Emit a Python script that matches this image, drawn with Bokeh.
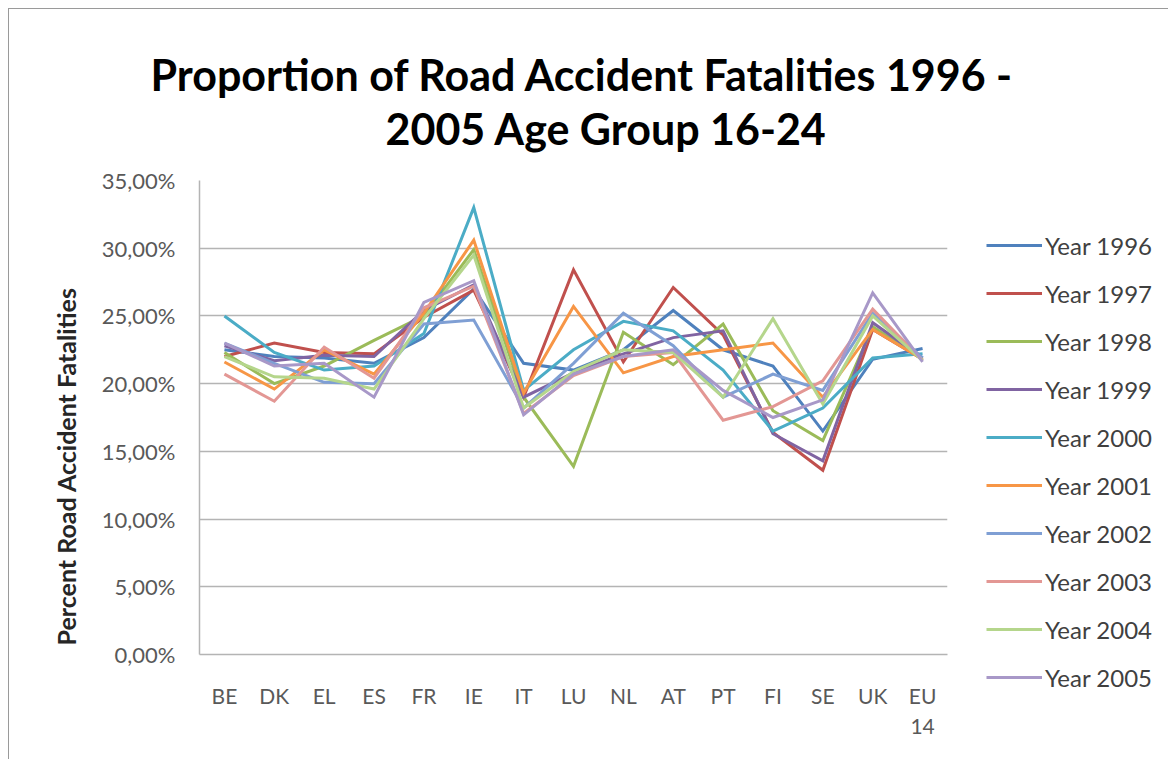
from bokeh.plotting import figure
from bokeh.models import FactorRange, Range1d, FixedTicker, Legend, LegendItem, Title
from bokeh.embed import file_html
from bokeh.resources import INLINE

categories = ["BE", "DK", "EL", "ES", "FR", "IE", "IT", "LU", "NL", "AT", "PT", "FI", "SE", "UK", "EU\n14"]

series_names = ["Year 1996", "Year 1997", "Year 1998", "Year 1999", "Year 2000",
                "Year 2001", "Year 2002", "Year 2003", "Year 2004", "Year 2005"]

y1996 = [22.5, 22.0, 21.9, 21.5, 23.4, 27.0, 21.5, 21.0, 22.5, 25.4, 22.5, 21.3, 16.5, 21.8, 22.6]
y1997 = [22.0, 23.0, 22.3, 22.2, 24.9, 26.9, 19.0, 28.4, 21.6, 27.1, 23.6, 16.4, 13.6, 24.0, 21.8]
y1998 = [22.3, 20.0, 21.3, 23.2, 25.0, 29.9, 19.0, 13.9, 23.8, 21.4, 24.4, 18.0, 15.8, 24.2, 21.8]
y1999 = [22.8, 21.7, 22.1, 22.0, 25.4, 27.3, 19.0, 20.8, 22.2, 23.4, 23.9, 16.3, 14.3, 24.5, 21.9]
y2000 = [25.0, 22.3, 21.0, 21.3, 23.7, 33.0, 19.5, 22.5, 24.6, 23.9, 21.0, 16.5, 18.2, 21.9, 22.2]
y2001 = [21.6, 19.6, 22.5, 20.7, 25.2, 30.6, 19.3, 25.7, 20.8, 22.0, 22.5, 23.0, 19.0, 24.0, 21.8]
y2002 = [23.0, 21.5, 20.1, 20.0, 24.4, 24.7, 18.2, 21.5, 25.2, 22.8, 19.0, 20.7, 19.5, 25.2, 21.9]
y2003 = [20.7, 18.7, 22.7, 20.4, 25.6, 27.2, 17.8, 20.6, 22.0, 22.3, 17.3, 18.3, 20.2, 25.5, 21.7]
y2004 = [22.0, 20.5, 20.4, 19.6, 24.8, 29.5, 18.2, 20.9, 22.5, 22.3, 19.0, 24.8, 18.5, 25.0, 21.7]
y2005 = [23.0, 21.3, 21.5, 19.0, 26.0, 27.6, 17.7, 20.7, 22.0, 22.5, 19.5, 17.5, 18.8, 26.7, 21.6]

series_values = [y1996, y1997, y1998, y1999, y2000, y2001, y2002, y2003, y2004, y2005]
series_colors = ["#4F81BD", "#C0504D", "#9BBB59", "#8064A2", "#4BACC6",
                 "#F79646", "#7F9FD4", "#E39794", "#B5D68C", "#A898C8"]

y_ticks = [0, 5, 10, 15, 20, 25, 30, 35]
y_tick_labels = ["0,00%", "5,00%", "10,00%", "15,00%", "20,00%", "25,00%", "30,00%", "35,00%"]

title_line1 = "Proportion of Road Accident Fatalities 1996 -"
title_line2 = "2005 Age Group 16-24"
y_axis_title = "Percent Road Accident Fatalities"

FONT = "Lato"
GRID = "#b4b4b4"

p = figure(x_range=FactorRange(factors=categories), y_range=Range1d(0, 35),
           frame_width=748, frame_height=474, output_backend="svg", toolbar_location=None,
           min_border_left=190, min_border_right=212, min_border_top=171, min_border_bottom=105)
p.styles = {"margin-left": "8px", "margin-top": "8px",
            "border-left": "1px solid #9a9a9a", "border-top": "1px solid #9a9a9a"}
p.outline_line_color = None
p.background_fill_color = "white"
p.border_fill_color = "white"

p.xgrid.visible = False
p.ygrid.grid_line_color = GRID
p.ygrid.grid_line_width = 1.5

p.yaxis.ticker = FixedTicker(ticks=y_ticks)
p.yaxis.major_label_overrides = dict(zip(y_ticks, y_tick_labels))
p.yaxis.minor_tick_line_color = None
p.yaxis.major_tick_out = 0
p.yaxis.major_tick_in = 0
p.yaxis.major_label_standoff = 24
p.yaxis.axis_line_color = GRID
p.yaxis.axis_line_width = 1.5
p.yaxis.major_label_text_font = FONT
p.yaxis.major_label_text_font_size = "22px"
p.yaxis.major_label_text_color = "#595959"

p.xaxis.major_tick_out = 0
p.xaxis.major_tick_in = 0
p.xaxis.minor_tick_line_color = None
p.xaxis.axis_line_color = GRID
p.xaxis.axis_line_width = 1.5
p.xaxis.major_label_standoff = 28
p.xaxis.major_label_text_font = FONT
p.xaxis.major_label_text_font_size = "21px"
p.xaxis.major_label_text_color = "#595959"

# y axis title, placed beyond the tick labels
p.add_layout(Title(text=y_axis_title, align="left", offset=9, standoff=35, text_font=FONT,
                   text_font_style="bold", text_font_size="25px", text_color="#262626"), "left")

items = []
for name, vals, col in zip(series_names, series_values, series_colors):
    r = p.line(x=categories, y=vals, line_color=col, line_width=3, line_join="miter")
    items.append(LegendItem(label=name, renderers=[r]))

legend = Legend(items=items, location=(39, -47), margin=0, padding=0, spacing=0,
                glyph_width=56, glyph_height=48, label_height=48, label_standoff=3,
                label_text_font=FONT, label_text_font_size="24px", label_text_color="#404040",
                background_fill_alpha=0, border_line_color=None)
p.add_layout(legend, "right")

t2 = Title(text=title_line2, align="left", offset=186, text_font=FONT, text_font_style="bold",
           text_font_size="43px", text_color="black", standoff=53, text_line_height=0.8)
t1 = Title(text=title_line1, align="left", offset=-49, text_font=FONT, text_font_style="bold",
           text_font_size="43px", text_color="black", standoff=-50)
p.add_layout(t2, "above")
p.add_layout(t1, "above")

open("out.html", "w").write(file_html(p, INLINE))
